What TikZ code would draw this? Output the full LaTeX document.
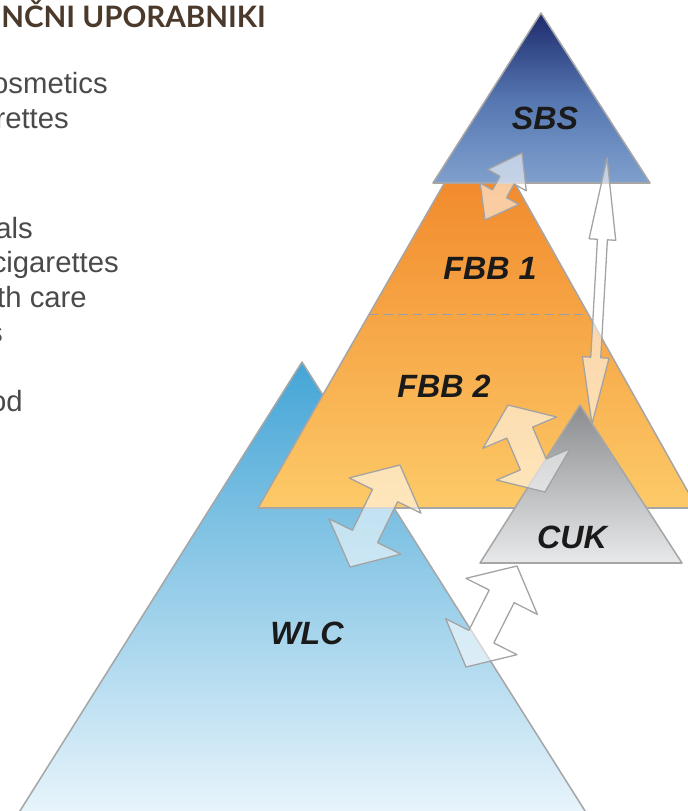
\documentclass[tikz,border=0pt]{standalone}
\usepackage{fontspec}
\setmainfont{Liberation Sans}
\newfontfamily\headfont{Lato}
\usetikzlibrary{calc}

\definecolor{edgegray}{HTML}{A6A6A6}
\definecolor{boltgray}{HTML}{A3A3A3}
\definecolor{dashgray}{HTML}{95A0AC}
\definecolor{labelblack}{HTML}{1A1A1A}
\definecolor{listgray}{HTML}{4A4A4A}
\definecolor{headbrown}{HTML}{4B3A2B}
\definecolor{wlctop}{HTML}{44A5D6}
\definecolor{wlcbot}{HTML}{EBF6FC}
\definecolor{fbbtop}{HTML}{EF7F22}
\definecolor{fbbbot}{HTML}{FDCA68}
\definecolor{sbstop}{HTML}{1D2A6C}
\definecolor{sbsmid}{HTML}{5576B0}
\definecolor{sbsbot}{HTML}{7FA0CD}
\definecolor{cuktop}{HTML}{8A8C8F}
\definecolor{cukbot}{HTML}{E8E9EA}

\tikzset{
  tier/.style={draw=edgegray, line width=1.3pt, line join=round},
  tierlabel/.style={inner sep=0pt, text=labelblack,
    font=\fontsize{27.5}{30}\selectfont\bfseries\itshape},
  sidetext/.style={anchor=base east, inner sep=0pt, text=listgray,
    font=\fontsize{25}{29}\selectfont},
  headtext/.style={anchor=base east, inner sep=0pt, text=headbrown,
    font=\headfont\fontsize{25.2}{29}\selectfont\bfseries},
  % double arrow: head length at start, head length at end, head half width, shaft half width
  bolt/.style n args={4}{draw=boltgray, line width=1.1pt, line join=round,
    fill=white, fill opacity=0.55,
    to path={
      -- ($($(\tikztostart)!#1!(\tikztotarget)$)!#3!90:(\tikztotarget)$)
      -- ($($(\tikztostart)!#1!(\tikztotarget)$)!#4!90:(\tikztotarget)$)
      -- ($($(\tikztotarget)!#2!(\tikztostart)$)!#4!-90:(\tikztostart)$)
      -- ($($(\tikztotarget)!#2!(\tikztostart)$)!#3!-90:(\tikztostart)$)
      -- (\tikztotarget)
      -- ($($(\tikztotarget)!#2!(\tikztostart)$)!#3!90:(\tikztostart)$)
      -- ($($(\tikztotarget)!#2!(\tikztostart)$)!#4!90:(\tikztostart)$)
      -- ($($(\tikztostart)!#1!(\tikztotarget)$)!#4!-90:(\tikztotarget)$)
      -- ($($(\tikztostart)!#1!(\tikztotarget)$)!#3!-90:(\tikztotarget)$)
      -- cycle}}
}

\begin{document}
\begin{tikzpicture}[x=0.03cm, y=-0.03cm]
  \useasboundingbox (0,0) rectangle (687,811);

  % left column, cut at the page edge
  \node[headtext] (head) at (266,28) {NČNI UPORABNIKI};
  \node[sidetext] (l1) at (108,93) {osmetics};
  \node[sidetext] (l2) at (69,128) {rettes};
  \node[sidetext] (l3) at (33,238) {als};
  \node[sidetext] (l4) at (119,272) {cigarettes};
  \node[sidetext] (l5) at (87,307) {th care};
  \node[sidetext] (l6) at (3,342) {s};
  \node[sidetext] (l7) at (23,411) {od};

  % pyramids
  \coordinate (wlc-top) at (302,362);
  \coordinate (wlc-l) at (13,822);
  \coordinate (wlc-r) at (592,822);
  \coordinate (fbb-top) at (480,121);
  \coordinate (fbb-l) at (258,508);
  \coordinate (fbb-r) at (697,508);
  \coordinate (sbs-top) at (541,13);
  \coordinate (sbs-l) at (433,183);
  \coordinate (sbs-r) at (650,183);
  \coordinate (cuk-top) at (580,405);
  \coordinate (cuk-l) at (480,563);
  \coordinate (cuk-r) at (682,563);

  \shadedraw[tier, top color=wlctop, bottom color=wlcbot]
    (wlc-top) -- (wlc-r) -- (wlc-l) -- cycle;
  \shadedraw[tier, top color=fbbtop, bottom color=fbbbot]
    (fbb-top) -- (fbb-r) -- (fbb-l) -- cycle;
  \draw[dashgray, line width=1.3pt, dash pattern=on 8pt off 4.5pt]
    ($(fbb-top)!0.5!(fbb-l)$) -- ($(fbb-top)!0.5!(fbb-r)$);
  \shadedraw[tier, top color=sbstop, bottom color=sbsbot, middle color=sbsmid]
    (sbs-top) -- (sbs-r) -- (sbs-l) -- cycle;
  \shadedraw[tier, top color=cuktop, bottom color=cukbot]
    (cuk-top) -- (cuk-r) -- (cuk-l) -- cycle;

  \node[tierlabel] (sbs) at (545,118) {SBS};
  \node[tierlabel] (fbb1) at (490,268) {FBB 1};
  \node[tierlabel] (fbb2) at (444,386) {FBB 2};
  \node[tierlabel] (cuk) at (572,537) {CUK};
  \node[tierlabel] (wlc) at (307,633) {WLC};

  % exchanges
  \coordinate (sbs-a) at (522,153);
  \coordinate (fbb-a) at (485,220);
  \coordinate (sbs-b) at (607,158);
  \coordinate (cuk-b) at (592,424);
  \coordinate (fbb-c) at (508,405);
  \coordinate (cuk-c) at (545,492);
  \coordinate (fbb-d) at (400,465);
  \coordinate (wlc-d) at (350,567);
  \coordinate (cuk-e) at (517,566);
  \coordinate (wlc-e) at (466,667);

  \draw[bolt={0.93cm}{0.9cm}{0.66cm}{0.24cm}] (sbs-a) to (fbb-a);
  \draw[bolt={2.45cm}{2cm}{0.4cm}{0.15cm}] (sbs-b) to (cuk-b);
  \draw[bolt={0.9cm}{0.9cm}{1.2cm}{0.42cm}] (fbb-c) to (cuk-c);
  \draw[bolt={1.02cm}{1.02cm}{1.2cm}{0.42cm}] (fbb-d) to (wlc-d);
  \draw[bolt={1.02cm}{1.02cm}{1.2cm}{0.42cm}] (cuk-e) to (wlc-e);
\end{tikzpicture}
\end{document}
